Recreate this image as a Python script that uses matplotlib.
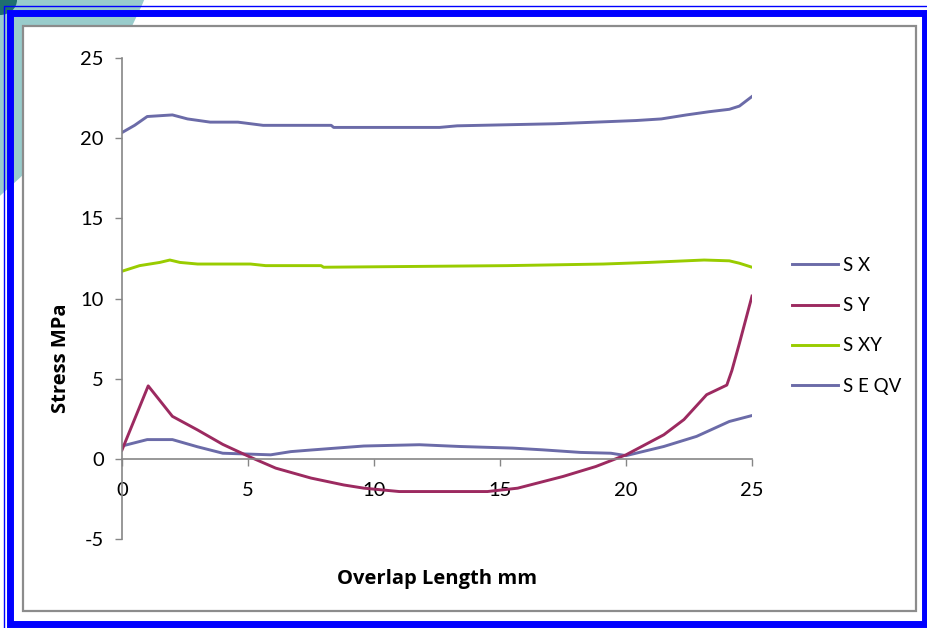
import matplotlib
matplotlib.use("Agg")
import matplotlib.pyplot as plt
from matplotlib.patches import Ellipse, Rectangle

plt.rcParams["font.family"] = ["Lato", "DejaVu Sans"]
plt.rcParams["axes.unicode_minus"] = False

W, H = 927, 628

# stress along the overlap (MPa), sampled per component
sx_x = [0, 1.0, 2.0, 3.0, 4.0, 5.9, 6.7, 7.5, 8.5, 9.6, 11.8, 13.4, 15.5,
        16.7, 18.2, 19.4, 20.0, 21.5, 22.8, 24.1, 25]
sx_y = [0.8, 1.2, 1.2, 0.75, 0.35, 0.25, 0.45, 0.55, 0.67, 0.8, 0.88, 0.77,
        0.67, 0.56, 0.4, 0.35, 0.2, 0.77, 1.4, 2.33, 2.7]

sy_x = [0, 1.04, 2.0, 3.0, 4.0, 5.1, 6.1, 7.5, 8.8, 9.6, 11.0, 14.5, 15.7,
        17.5, 18.8, 20.0, 21.5, 22.3, 23.2, 24.0, 24.2, 24.5, 25]
sy_y = [0.55, 4.55, 2.65, 1.8, 0.9, 0.1, -0.58, -1.2, -1.63, -1.83, -2.04,
        -2.04, -1.83, -1.1, -0.48, 0.25, 1.5, 2.45, 4.0, 4.6, 5.5, 7.2, 10.15]

sxy_x = [0, 0.7, 1.5, 1.9, 2.3, 3.0, 5.1, 5.7, 7.9, 8.0, 15.3, 19.1, 20.9,
         23.1, 24.1, 24.5, 25]
sxy_y = [11.7, 12.05, 12.25, 12.4, 12.25, 12.15, 12.15, 12.05, 12.05, 11.95,
         12.05, 12.15, 12.25, 12.4, 12.35, 12.2, 11.95]

seqv_x = [0, 0.5, 1.0, 2.0, 2.6, 3.5, 4.6, 5.6, 8.3, 8.4, 12.6, 13.3, 17.2,
          18.8, 20.4, 21.4, 22.4, 23.3, 24.1, 24.5, 25]
seqv_y = [20.35, 20.8, 21.35, 21.45, 21.2, 21.0, 21.0, 20.8, 20.8, 20.67,
          20.67, 20.77, 20.9, 21.0, 21.1, 21.2, 21.45, 21.65, 21.8, 22.0, 22.6]

labels = ["S X", "S Y", "S XY", "S E QV"]
colors = ["#6b6ba8", "#9c2a60", "#99cc00", "#6b6ba8"]

fig = plt.figure(figsize=(W / 100, H / 100), dpi=100)


def px(x0, y0, x1, y1):
    """pixel box (top-left origin) -> figure fraction (x, y, w, h)"""
    return x0 / W, 1 - y1 / H, (x1 - x0) / W, (y1 - y0) / H


# slide background: teal disc in the corner, blue double border
r = 543
fig.add_artist(Ellipse(((-354) / W, 1 + 216 / H), 2 * r / W, 2 * r / H,
                       transform=fig.transFigure, facecolor="#99cccc",
                       edgecolor="none", zorder=0))
fig.add_artist(Ellipse((0, 1), 34 / W, 30 / H, transform=fig.transFigure,
                       facecolor="#1f6f6f", edgecolor="none", zorder=0.1))
x, y, w, h = px(3.5, 5.8, 940, 640)
fig.add_artist(Rectangle((x, y), w, h, transform=fig.transFigure, fill=False,
                         edgecolor="#0000ff", linewidth=1.0, zorder=1))
x, y, w, h = px(10, 13, 924.5, 624)
fig.add_artist(Rectangle((x, y), w, h, transform=fig.transFigure, fill=False,
                         edgecolor="#0000ff", linewidth=5.0, zorder=1))
x, y, w, h = px(22.5, 25.5, 916, 611)
fig.add_artist(Rectangle((x, y), w, h, transform=fig.transFigure,
                         facecolor="white", edgecolor="#8c8c8c",
                         linewidth=1.6, zorder=0.5))

ax = fig.add_axes(px(122, 58, 752, 539))
ax.set_zorder(2)
ax.patch.set_alpha(0)

series = [(sx_x, sx_y), (sy_x, sy_y), (sxy_x, sxy_y), (seqv_x, seqv_y)]
handles = []
for (xs, ys), lab, c in zip(series, labels, colors):
    (ln,) = ax.plot(xs, ys, color=c, linewidth=2.1, label=lab,
                    solid_joinstyle="round")
    handles.append(ln)

ax.set_xlim(0, 25)
ax.set_ylim(-5, 25)
ax.set_xticks([0, 5, 10, 15, 20, 25])
ax.set_yticks([-5, 0, 5, 10, 15, 20, 25])

for side in ("top", "right"):
    ax.spines[side].set_visible(False)
ax.spines["bottom"].set_position(("data", 0))
for side in ("left", "bottom"):
    ax.spines[side].set_color("#868686")
    ax.spines[side].set_linewidth(1.2)

ax.tick_params(axis="y", direction="out", length=5, width=1.0,
               color="#868686", pad=8, labelsize=14.5)
ax.tick_params(axis="x", direction="out", length=5, width=1.0,
               color="#868686", pad=12, labelsize=14.5)

label_font = dict(family=["Open Sans", "DejaVu Sans"], fontsize=14.5,
                  fontweight="bold")
ax.set_ylabel("Stress MPa", **label_font)
ax.yaxis.set_label_coords(-0.081, 0.376)
ax.set_xlabel("Overlap Length mm", **label_font)
ax.xaxis.set_label_coords(0.5, -0.0625)

ax.legend(handles=handles, loc="upper left", frameon=False,
          bbox_to_anchor=(775 / W, 1 - 240 / H),
          bbox_transform=fig.transFigure, fontsize=13.5,
          handlelength=2.45, handletextpad=0.3, labelspacing=1.24)

fig.savefig("out.png", dpi=100)
